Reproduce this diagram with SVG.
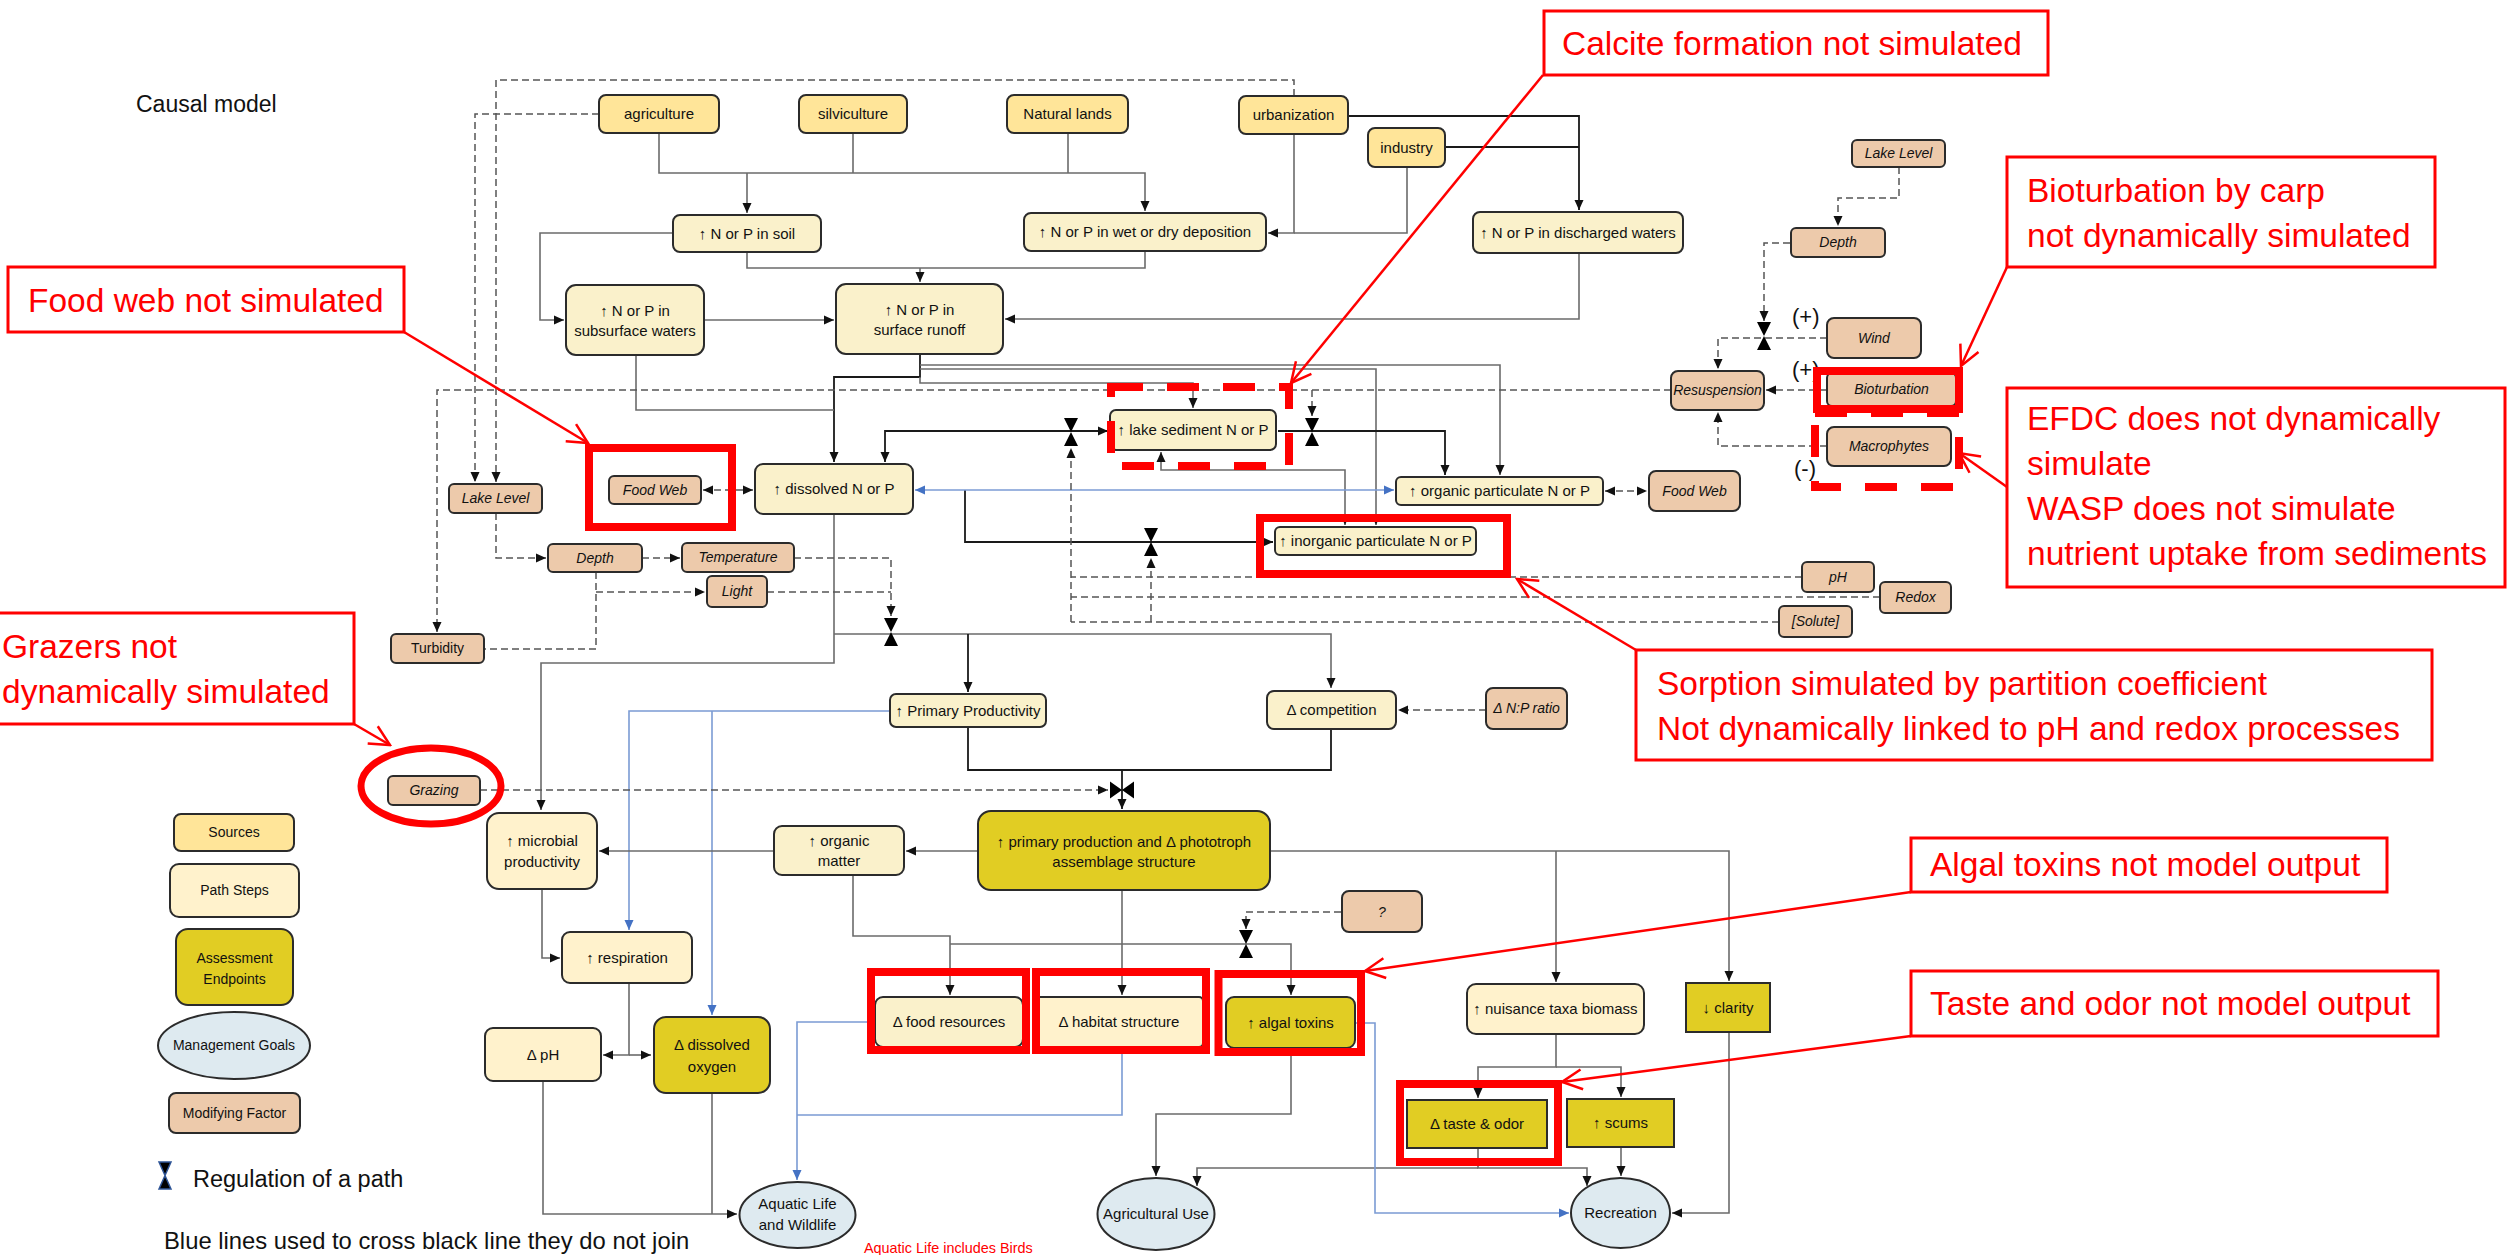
<svg xmlns="http://www.w3.org/2000/svg" width="2509" height="1255" viewBox="0 0 2509 1255">
<defs>
<style>
text{font-family:"Liberation Sans",Arial,sans-serif;fill:#111}
.t{font-size:15px;text-anchor:middle}
.m{font-size:14px;text-anchor:middle;font-style:italic}
.mu{font-size:14px;text-anchor:middle}
.src{fill:#ffe599;stroke:#2b2b2b;stroke-width:2}
.ps{fill:#faf1cb;stroke:#2b2b2b;stroke-width:2}
.ps2{fill:#fff2cc;stroke:#2b2b2b;stroke-width:2}
.ae{fill:#e1cd23;stroke:#2b2b2b;stroke-width:2}
.mf{fill:#edcaab;stroke:#2b2b2b;stroke-width:2}
.mg{fill:#deeaf0;stroke:#2b2b2b;stroke-width:2}
.c{fill:none;stroke:#6b6b6b;stroke-width:1.6}
.k{stroke:#1a1a1a;stroke-width:1.8}
.d{fill:none;stroke:#555;stroke-width:1.5;stroke-dasharray:7 4}
.b{fill:none;stroke:#7b9bd4;stroke-width:1.6}
.hl{fill:none;stroke:#ff0000;stroke-width:8}
.hd{fill:none;stroke:#ff0000;stroke-width:8;stroke-dasharray:32 24}
.ab{fill:#fff;stroke:#ff0000;stroke-width:3}
.at{font-size:33.5px;fill:#ff0000}
.ld{fill:none;stroke:#ff0000;stroke-width:2.5}
</style>
<marker id="a" viewBox="0 0 10 10" refX="10" refY="5" markerWidth="10" markerHeight="10" markerUnits="userSpaceOnUse" orient="auto-start-reverse"><path d="M0,0.5 L10,5 L0,9.5 z" fill="#111"/></marker>
<marker id="ab" viewBox="0 0 10 10" refX="10" refY="5" markerWidth="10" markerHeight="10" markerUnits="userSpaceOnUse" orient="auto-start-reverse"><path d="M0,0.5 L10,5 L0,9.5 z" fill="#4472c4"/></marker>
<marker id="ar" viewBox="-2 -12 24 24" refX="20" refY="0" markerWidth="24" markerHeight="24" markerUnits="userSpaceOnUse" orient="auto"><path d="M0,-10 L20,0 L0,10" fill="none" stroke="#ff0000" stroke-width="2.5"/></marker>
<g id="hg"><path d="M-7,-14 H7 L0,0 Z M-7,14 H7 L0,0 Z" fill="#000"/></g>
<g id="hgh"><path d="M-12,-8.5 V8.5 L0,0 Z M12,-8.5 V8.5 L0,0 Z" fill="#000"/></g>
</defs>
<rect x="0" y="0" width="2509" height="1255" fill="#fff"/>

<text x="136" y="112" style="font-size:23px">Causal model</text>

<!-- connectors -->
<g id="connectors">
<path class="c" d="M659,133 V173 H1145 V211" marker-end="url(#a)"/>
<path class="c" d="M853,133 V173 M1068,133 V173"/>
<path class="c" d="M747,173 V213" marker-end="url(#a)"/>
<path class="c" d="M747,252 V268 H1145 V251"/>
<path class="c" d="M920,268 V282" marker-end="url(#a)"/>
<path class="c" d="M673,233 H540 V320 H564" marker-end="url(#a)"/>
<path class="c" d="M704,320 H834" marker-end="url(#a)"/>
<path class="c" d="M1579,253 V319 H1005" marker-end="url(#a)"/>
<path class="c k" d="M1348,116 H1579 V210" marker-end="url(#a)"/>
<path class="c k" d="M1445,147 H1579"/>
<path class="c" d="M1294,134 V233 H1268" marker-end="url(#a)"/>
<path class="c" d="M1407,167 V233 H1294"/>
<path class="c k" d="M920,354 V377 H834 V462" marker-end="url(#a)"/>
<path class="c" d="M636,355 V410 H834"/>
<path class="c" d="M920,365 H1500 V475" marker-end="url(#a)"/>
<path class="c" d="M920,369 H1376 V525" marker-end="url(#a)"/>
<path class="c" d="M920,377 V383 H1193 V408" marker-end="url(#a)"/>
<path class="c k" d="M1108,431 H885 V462" marker-start="url(#a)" marker-end="url(#a)"/>
<path class="c k" d="M1278,431 H1445 V475" marker-end="url(#a)"/>
<path class="c" d="M1161,452 V470 H1345 V525" marker-start="url(#a)" marker-end="url(#a)"/>
<path class="c k" d="M965,490 V542 H1273" marker-end="url(#a)"/>
<path class="b" d="M915,490 H1394" marker-start="url(#ab)" marker-end="url(#ab)"/>
<path class="c" d="M834,514 V663 H541 V810" marker-end="url(#a)"/>
<path class="c" d="M834,634 H1331 V688" marker-end="url(#a)"/>
<path class="c k" d="M968,634 V692" marker-end="url(#a)"/>
<path class="c k" d="M968,727 V770 H1331 V729"/>
<path class="c k" d="M1122,770 V809" marker-end="url(#a)"/>
<path class="b" d="M890,711 H629 V930" marker-end="url(#ab)"/>
<path class="b" d="M712,711 V1015" marker-end="url(#ab)"/>
<path class="c" d="M978,851 H906" marker-end="url(#a)"/>
<path class="c" d="M774,851 H599" marker-end="url(#a)"/>
<path class="c" d="M542,889 V958 H560" marker-end="url(#a)"/>
<path class="c" d="M629,983 V1055 H603" marker-end="url(#a)"/>
<path class="c" d="M629,1055 H651" marker-end="url(#a)"/>
<path class="c" d="M543,1081 V1214 H737" marker-end="url(#a)"/>
<path class="c" d="M712,1093 V1214"/>
<path class="c" d="M853,875 V936 H950 V995" marker-end="url(#a)"/>
<path class="c" d="M950,944 H1291 V995" marker-end="url(#a)"/>
<path class="c" d="M1122,890 V995" marker-end="url(#a)"/>
<path class="c" d="M1270,851 H1729 V981" marker-end="url(#a)"/>
<path class="c" d="M1556,851 V982" marker-end="url(#a)"/>
<path class="c" d="M1556,1034 V1067 H1478 V1098" marker-end="url(#a)"/>
<path class="c" d="M1556,1067 H1621 V1097" marker-end="url(#a)"/>
<path class="c" d="M1621,1147 V1176" marker-end="url(#a)"/>
<path class="c" d="M1729,1032 V1213 H1672" marker-end="url(#a)"/>
<path class="c" d="M1478,1148 V1168 H1587 V1186" marker-end="url(#a)"/>
<path class="c" d="M1478,1168 H1197 V1186" marker-end="url(#a)"/>
<path class="c" d="M1291,1048 V1114 H1156 V1176" marker-end="url(#a)"/>
<path class="b" d="M1355,1023 H1375 V1213 H1569" marker-end="url(#ab)"/>
<path class="b" d="M875,1022 H797 V1180" marker-end="url(#ab)"/>
<path class="b" d="M1122,1047 V1115 H797"/>

<path class="d" d="M1294,96 V80 H496 V482" marker-end="url(#a)"/>
<path class="d" d="M599,114 H475 V482" marker-end="url(#a)"/>
<path class="d" d="M1671,390 H437 V632" marker-end="url(#a)"/>
<path class="d" d="M1312,390 V416" marker-end="url(#a)"/>
<path class="d" d="M496,513 V558 H546" marker-end="url(#a)"/>
<path class="d" d="M642,558 H680" marker-end="url(#a)"/>
<path class="d" d="M596,572 V649 H484"/>
<path class="d" d="M596,592 H705" marker-end="url(#a)"/>
<path class="d" d="M794,558 H891 V616" marker-end="url(#a)"/>
<path class="d" d="M767,592 H891"/>
<path class="d" d="M703,490 H753" marker-start="url(#a)" marker-end="url(#a)"/>
<path class="d" d="M1605,491 H1647" marker-start="url(#a)" marker-end="url(#a)"/>
<path class="d" d="M1802,577 H1071 M1880,597 H1071 M1779,622 H1071"/>
<path class="d" d="M1071,622 V448" marker-end="url(#a)"/>
<path class="d" d="M1151,622 V558" marker-end="url(#a)"/>
<path class="d" d="M480,790 H1108" marker-end="url(#a)"/>
<path class="d" d="M1486,710 H1398" marker-end="url(#a)"/>
<path class="d" d="M1341,912 H1246 V929" marker-end="url(#a)"/>
<path class="d" d="M1899,167 V198 H1838 V226" marker-end="url(#a)"/>
<path class="d" d="M1790,243 H1764 V321" marker-end="url(#a)"/>
<path class="d" d="M1827,338 H1718 V369" marker-end="url(#a)"/>
<path class="d" d="M1827,390 H1766" marker-end="url(#a)"/>
<path class="d" d="M1827,446 H1718 V412" marker-end="url(#a)"/>

<use href="#hg" x="891" y="632"/>
<use href="#hg" x="1071" y="432"/>
<use href="#hg" x="1312" y="432"/>
<use href="#hg" x="1151" y="542"/>
<use href="#hgh" x="1122" y="790"/>
<use href="#hg" x="1246" y="944"/>
<use href="#hg" x="1764" y="336"/>
</g>

<!-- sources -->
<g id="n-agriculture"><rect class="src" x="599" y="95" width="120" height="38" rx="7"/><text class="t" x="659" y="119">agriculture</text></g>
<g id="n-silviculture"><rect class="src" x="799" y="95" width="108" height="38" rx="7"/><text class="t" x="853" y="119">silviculture</text></g>
<g id="n-natural"><rect class="src" x="1007" y="95" width="121" height="38" rx="7"/><text class="t" x="1067.5" y="119">Natural lands</text></g>
<g id="n-urbanization"><rect class="src" x="1239" y="96" width="109" height="38" rx="7"/><text class="t" x="1293.5" y="120">urbanization</text></g>
<g id="n-industry"><rect class="src" x="1368" y="128" width="77" height="39" rx="7"/><text class="t" x="1406.5" y="152.5">industry</text></g>

<!-- path steps -->
<g id="n-soil"><rect class="ps" x="673" y="215" width="148" height="37" rx="7"/><text class="t" x="747" y="239">↑ N or P in soil</text></g>
<g id="n-wetdep"><rect class="ps" x="1024" y="213" width="242" height="38" rx="7"/><text class="t" x="1145" y="237">↑ N or P in wet or dry deposition</text></g>
<g id="n-discharged"><rect class="ps" x="1473" y="212" width="210" height="41" rx="7"/><text class="t" x="1578" y="238">↑ N or P in discharged waters</text></g>
<g id="n-subsurface"><rect class="ps" x="566" y="285" width="138" height="70" rx="10"/><text class="t" x="635" y="316">↑ N or P in</text><text class="t" x="635" y="336">subsurface waters</text></g>
<g id="n-runoff"><rect class="ps" x="836" y="284" width="167" height="70" rx="10"/><text class="t" x="919.5" y="315">↑ N or P in</text><text class="t" x="919.5" y="335">surface runoff</text></g>
<g id="n-dissolved"><rect class="ps" x="755" y="464" width="158" height="50" rx="8"/><text class="t" x="834" y="494">↑ dissolved N or P</text></g>
<g id="n-sediment"><rect class="ps" x="1110" y="410" width="166" height="40" rx="6"/><text class="t" x="1193" y="435">↑ lake sediment N or P</text></g>
<g id="n-orgpart"><rect class="ps" x="1396" y="477" width="207" height="28" rx="5"/><text class="t" x="1499.5" y="496">↑ organic particulate N or P</text></g>
<g id="n-inorgpart"><rect class="ps" x="1275" y="527" width="201" height="28" rx="5"/><text class="t" x="1375.5" y="546">↑ inorganic particulate N or P</text></g>
<g id="n-pp"><rect class="ps" x="890" y="694" width="156" height="33" rx="6"/><text class="t" x="968" y="716">↑ Primary Productivity</text></g>
<g id="n-competition"><rect class="ps" x="1267" y="691" width="129" height="38" rx="7"/><text class="t" x="1331.5" y="715">Δ competition</text></g>
<g id="n-orgmatter"><rect class="ps" x="774" y="826" width="130" height="49" rx="8"/><text class="t" x="839" y="846">↑ organic</text><text class="t" x="839" y="866">matter</text></g>
<g id="n-microbial"><rect class="ps2" x="487" y="813" width="110" height="76" rx="12"/><text class="t" x="542" y="846">↑ microbial</text><text class="t" x="542" y="867">productivity</text></g>
<g id="n-respiration"><rect class="ps2" x="562" y="932" width="130" height="51" rx="8"/><text class="t" x="627" y="963">↑ respiration</text></g>
<g id="n-ph"><rect class="ps2" x="485" y="1028" width="116" height="53" rx="8"/><text class="t" x="543" y="1060">Δ pH</text></g>
<g id="n-food"><rect class="ps" x="875" y="997" width="148" height="50" rx="8"/><text class="t" x="949" y="1027">Δ food resources</text></g>
<g id="n-habitat"><rect class="ps2" x="1035" y="997" width="168" height="50" rx="4"/><text class="t" x="1119" y="1027">Δ habitat structure</text></g>
<g id="n-nuisance"><rect class="ps2" x="1467" y="984" width="177" height="50" rx="9"/><text class="t" x="1555.5" y="1014">↑ nuisance taxa biomass</text></g>

<!-- assessment endpoints -->
<g id="n-primprod"><rect class="ae" x="978" y="811" width="292" height="79" rx="13"/><text class="t" x="1124" y="847">↑ primary production and Δ phototroph</text><text class="t" x="1124" y="867">assemblage structure</text></g>
<g id="n-do"><rect class="ae" x="654" y="1017" width="116" height="76" rx="12"/><text class="t" x="712" y="1050">Δ dissolved</text><text class="t" x="712" y="1072">oxygen</text></g>
<g id="n-algal"><rect class="ae" x="1226" y="997" width="129" height="51" rx="8"/><text class="t" x="1290.5" y="1028">↑ algal toxins</text></g>
<g id="n-clarity"><rect class="ae" x="1686" y="983" width="84" height="49"/><text class="t" x="1728" y="1013">↓ clarity</text></g>
<g id="n-taste"><rect class="ae" x="1407" y="1100" width="140" height="48"/><text class="t" x="1477" y="1129">Δ taste &amp; odor</text></g>
<g id="n-scums"><rect class="ae" x="1567" y="1099" width="107" height="48"/><text class="t" x="1620.5" y="1128">↑ scums</text></g>

<!-- management goals -->
<g id="n-aquatic"><ellipse class="mg" cx="797.5" cy="1215" rx="58" ry="33"/><text class="t" x="797.5" y="1209">Aquatic Life</text><text class="t" x="797.5" y="1230">and Wildlife</text></g>
<g id="n-agruse"><ellipse class="mg" cx="1156" cy="1214" rx="58.5" ry="36"/><text class="t" x="1156" y="1219">Agricultural Use</text></g>
<g id="n-recreation"><ellipse class="mg" cx="1620.5" cy="1213" rx="49.5" ry="35"/><text class="t" x="1620.5" y="1218">Recreation</text></g>

<!-- modifying factors -->
<g id="n-lakelevel-l"><rect class="mf" x="449" y="484" width="93" height="29" rx="5"/><text class="m" x="495.5" y="503">Lake Level</text></g>
<g id="n-foodweb-l"><rect class="mf" x="609" y="476" width="92" height="28" rx="5"/><text class="m" x="655" y="495">Food Web</text></g>
<g id="n-depth-l"><rect class="mf" x="548" y="544" width="94" height="28" rx="5"/><text class="m" x="595" y="563">Depth</text></g>
<g id="n-temperature"><rect class="mf" x="682" y="543" width="112" height="29" rx="5"/><text class="m" x="738" y="562">Temperature</text></g>
<g id="n-light"><rect class="mf" x="707" y="576" width="60" height="31" rx="5"/><text class="m" x="737" y="596">Light</text></g>
<g id="n-turbidity"><rect class="mf" x="391" y="634" width="93" height="29" rx="5"/><text class="mu" x="437.5" y="653">Turbidity</text></g>
<g id="n-grazing"><rect class="mf" x="388" y="776" width="92" height="29" rx="5"/><text class="m" x="434" y="795">Grazing</text></g>
<g id="n-foodweb-r"><rect class="mf" x="1649" y="471" width="91" height="40" rx="7"/><text class="m" x="1694.5" y="496">Food Web</text></g>
<g id="n-ph-mod"><rect class="mf" x="1802" y="562" width="72" height="30" rx="5"/><text class="m" x="1838" y="582">pH</text></g>
<g id="n-redox"><rect class="mf" x="1880" y="582" width="71" height="31" rx="5"/><text class="m" x="1915.5" y="602">Redox</text></g>
<g id="n-solute"><rect class="mf" x="1779" y="606" width="73" height="31" rx="5"/><text class="m" x="1815.5" y="626">[Solute]</text></g>
<g id="n-npratio"><rect class="mf" x="1486" y="688" width="81" height="41" rx="7"/><text class="m" x="1526.5" y="713">Δ N:P ratio</text></g>
<g id="n-unknown"><rect class="mf" x="1342" y="891" width="80" height="41" rx="7"/><text class="m" x="1382" y="917">?</text></g>
<g id="n-lakelevel-r"><rect class="mf" x="1852" y="140" width="93" height="27" rx="5"/><text class="m" x="1898.5" y="158">Lake Level</text></g>
<g id="n-depth-r"><rect class="mf" x="1791" y="228" width="94" height="29" rx="5"/><text class="m" x="1838" y="247">Depth</text></g>
<g id="n-wind"><rect class="mf" x="1827" y="318" width="94" height="40" rx="7"/><text class="m" x="1874" y="343">Wind</text></g>
<g id="n-resuspension"><rect class="mf" x="1671" y="371" width="93" height="39" rx="7"/><text class="m" x="1717.5" y="395">Resuspension</text></g>
<g id="n-bioturbation"><rect class="mf" x="1827" y="373" width="129" height="33" rx="5"/><text class="m" x="1891.5" y="394">Bioturbation</text></g>
<g id="n-macrophytes"><rect class="mf" x="1827" y="427" width="124" height="39" rx="7"/><text class="m" x="1889" y="451">Macrophytes</text></g>
<text x="1792" y="324" style="font-size:22px">(+)</text>
<text x="1792" y="377" style="font-size:22px">(+)</text>
<text x="1794" y="476" style="font-size:22px">(-)</text>

<!-- legend -->
<g id="legend">
<rect class="src" x="174" y="814" width="120" height="37" rx="7"/><text class="mu" x="234" y="837">Sources</text>
<rect class="ps2" x="170" y="864" width="129" height="53" rx="9"/><text class="mu" x="234.5" y="895">Path Steps</text>
<rect class="ae" x="176" y="929" width="117" height="76" rx="12"/><text class="mu" x="234.5" y="963">Assessment</text><text class="mu" x="234.5" y="984">Endpoints</text>
<ellipse class="mg" cx="234" cy="1045.5" rx="76" ry="33.5"/><text class="mu" x="234" y="1050">Management Goals</text>
<rect class="mf" x="169" y="1093" width="131" height="40" rx="7"/><text class="mu" x="234.5" y="1118">Modifying Factor</text>
<path d="M159,1162 H171 L165,1175.5 Z M159,1189 H171 L165,1175.5 Z" fill="#000" stroke="#2f5597" stroke-width="1.5"/>
<text x="193" y="1187" style="font-size:23.5px">Regulation of a path</text>
<text x="164" y="1249" style="font-size:23.8px">Blue lines used to cross black line they do not join</text>
<text x="864" y="1253" style="font-size:14.4px;fill:#ff0000">Aquatic Life includes Birds</text>
</g>

<!-- red highlights -->
<g id="highlights">
<rect class="hl" x="589" y="448" width="143" height="79"/>
<ellipse class="hl" cx="431" cy="786" rx="70" ry="38" style="stroke-width:7"/>
<rect class="hl" x="1260" y="518" width="247" height="56"/>
<rect class="hl" x="871" y="972" width="155" height="78"/>
<rect class="hl" x="1036" y="972" width="170" height="78"/>
<rect class="hl" x="1218.5" y="974" width="142.5" height="78"/>
<rect class="hl" x="1400" y="1084" width="158" height="78"/>
<rect class="hl" x="1817" y="371" width="142" height="38"/>
<rect class="hd" x="1111" y="387" width="178" height="79"/>
<rect class="hd" x="1815" y="413" width="144" height="74"/>
</g>

<!-- annotations -->
<g id="annotations">
<path class="ld" d="M1543,75 L1291,383" marker-end="url(#ar)"/>
<path class="ld" d="M2007,267 L1961,366" marker-end="url(#ar)"/>
<path class="ld" d="M2007,487 L1959,453" marker-end="url(#ar)"/>
<path class="ld" d="M404,332 L588,443" marker-end="url(#ar)"/>
<path class="ld" d="M354,724 L390,745" marker-end="url(#ar)"/>
<path class="ld" d="M1636,650 L1517,579" marker-end="url(#ar)"/>
<path class="ld" d="M1911,892 L1365,971" marker-end="url(#ar)"/>
<path class="ld" d="M1911,1036 L1562,1082" marker-end="url(#ar)"/>

<g id="a-calcite"><rect class="ab" x="1544" y="11" width="504" height="64"/><text class="at" x="1562" y="55">Calcite formation not simulated</text></g>
<g id="a-bioturb"><rect class="ab" x="2007" y="157" width="428" height="110"/><text class="at" x="2027" y="202">Bioturbation by carp</text><text class="at" x="2027" y="247">not dynamically simulated</text></g>
<g id="a-efdc"><rect class="ab" x="2007" y="388" width="498" height="199"/><text class="at" x="2027" y="430">EFDC does not dynamically</text><text class="at" x="2027" y="475">simulate</text><text class="at" x="2027" y="520">WASP does not simulate</text><text class="at" x="2027" y="565">nutrient uptake from sediments</text></g>
<g id="a-foodweb"><rect class="ab" x="8" y="267" width="396" height="65"/><text class="at" x="28" y="312">Food web not simulated</text></g>
<g id="a-grazers"><rect class="ab" x="-3" y="613" width="357" height="111"/><text class="at" x="2" y="658">Grazers not</text><text class="at" x="2" y="703">dynamically simulated</text></g>
<g id="a-sorption"><rect class="ab" x="1636" y="650" width="796" height="110"/><text class="at" x="1657" y="695">Sorption simulated by partition coefficient</text><text class="at" x="1657" y="740">Not dynamically linked to pH and redox processes</text></g>
<g id="a-algal"><rect class="ab" x="1911" y="838" width="476" height="54"/><text class="at" x="1930" y="876">Algal toxins not model output</text></g>
<g id="a-taste"><rect class="ab" x="1911" y="971" width="527" height="65"/><text class="at" x="1930" y="1015">Taste and odor not model output</text></g>
</g>
</svg>
